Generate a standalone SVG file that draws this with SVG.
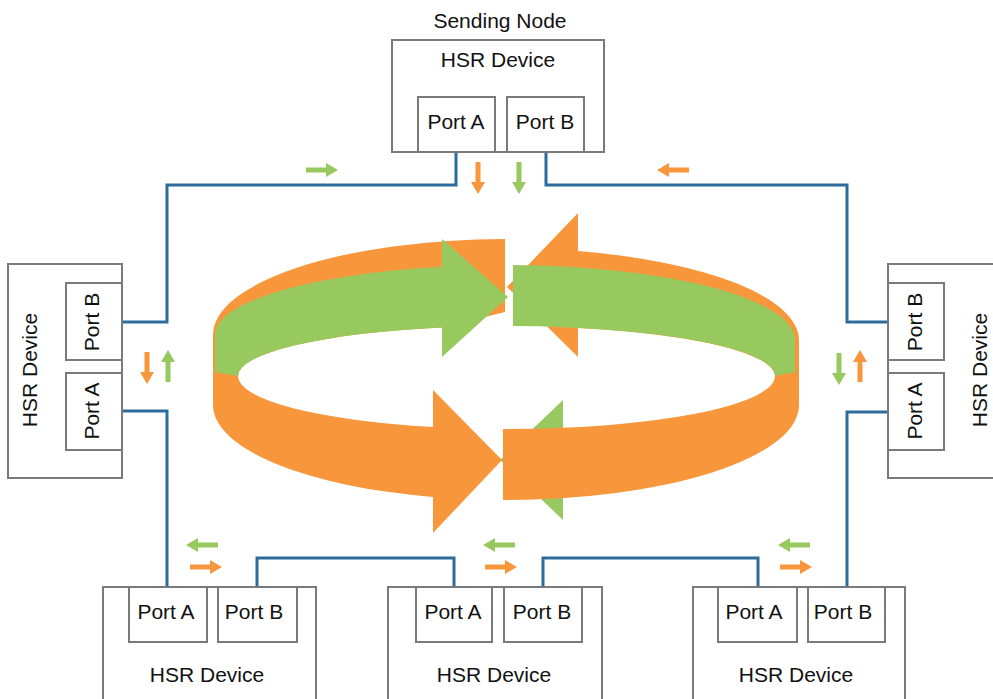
<svg xmlns="http://www.w3.org/2000/svg" width="993" height="699" viewBox="0 0 993 699">
<style>
.box{fill:#fff;stroke:#7a7a7a;stroke-width:2}
.lbl{font-family:"Liberation Sans",Arial,sans-serif;font-size:21px;fill:#111;text-anchor:middle}
.link{fill:none;stroke:#2c6c9c;stroke-width:3}
.or{fill:#f7963b}
.gr{fill:#97c95f}
</style>
<defs>
<!-- short block arrow pointing along +x -->
<path id="sa" d="M0,-2.5H20V-7L32,0L20,7V2.5H0Z"/>
</defs>
<rect width="993" height="699" fill="#fff"/>

<!-- ring of two counter-rotating ribbons -->
<g id="ring">
<path class="gr" d="M563,400L500,460L563,520Z"/>
<path class="or" d="M578,213L507,287L578,357L578,328A268.5,50 0 0 1 775,376A268.5,53 0 0 1 503,429L503,500A293,95 0 0 0 799,405L799,340A293,92 0 0 0 578,251Z"/>
<path class="or" d="M505,239A293,96 0 0 0 213,335L213,405A293,95 0 0 0 433,497L433,533L502,460L433,390L433,427A268.5,53 0 0 1 238,376A268.5,50 0 0 1 442,327.5L505,312Z"/>
<path class="gr" d="M442,239L508,297L442,357L442,327.5A268.5,50 0 0 0 238,376L215,372L215,335A291,70 0 0 1 442,266.7Z"/>
<path class="gr" d="M513,265A289,75 0 0 1 795,340L795,372L775,376A268.5,50 0 0 0 513,326Z"/>
</g>

<!-- ring cabling -->
<g id="connectors">
<path class="link" d="M456,152V185H167V322H122"/>
<path class="link" d="M546,152V185H847V322H888"/>
<path class="link" d="M122,411H167V587"/>
<path class="link" d="M257,587V558H454V587"/>
<path class="link" d="M543,587V558H758V587"/>
<path class="link" d="M847,587V412H888"/>
</g>

<!-- frame direction markers -->
<g id="flow">
<use href="#sa" class="gr" transform="translate(306,170)"/>
<use href="#sa" class="or" transform="translate(689,170) rotate(180)"/>
<use href="#sa" class="or" transform="translate(478,162) rotate(90)"/>
<use href="#sa" class="gr" transform="translate(519,162) rotate(90)"/>
<use href="#sa" class="or" transform="translate(147,352) rotate(90)"/>
<use href="#sa" class="gr" transform="translate(168,382) rotate(-90)"/>
<use href="#sa" class="gr" transform="translate(839,353) rotate(90)"/>
<use href="#sa" class="or" transform="translate(860,382) rotate(-90)"/>
<use href="#sa" class="gr" transform="translate(218,545) rotate(180)"/>
<use href="#sa" class="or" transform="translate(190,567)"/>
<use href="#sa" class="gr" transform="translate(515,545) rotate(180)"/>
<use href="#sa" class="or" transform="translate(485,567)"/>
<use href="#sa" class="gr" transform="translate(810,545) rotate(180)"/>
<use href="#sa" class="or" transform="translate(780,567)"/>
</g>

<g id="node-sending">
<text class="lbl" x="500" y="28">Sending Node</text>
<rect class="box" x="392" y="40" width="212" height="112"/>
<text class="lbl" x="498" y="67">HSR Device</text>
<rect class="box" x="418" y="97" width="77" height="55"/>
<rect class="box" x="507" y="97" width="77" height="55"/>
<text class="lbl" x="456" y="129">Port A</text>
<text class="lbl" x="545" y="129">Port B</text>
</g>

<g id="node-left">
<rect class="box" x="8" y="264" width="114" height="214"/>
<rect class="box" x="66" y="283" width="56" height="77"/>
<rect class="box" x="66" y="373" width="56" height="77"/>
<text class="lbl" transform="translate(37,370) rotate(-90)">HSR Device</text>
<text class="lbl" transform="translate(99,322) rotate(-90)">Port B</text>
<text class="lbl" transform="translate(99,411) rotate(-90)">Port A</text>
</g>

<g id="node-right">
<rect class="box" x="888" y="264" width="130" height="214"/>
<rect class="box" x="888" y="283" width="56" height="77"/>
<rect class="box" x="888" y="373" width="56" height="77"/>
<text class="lbl" transform="translate(987,370) rotate(-90)">HSR Device</text>
<text class="lbl" transform="translate(922,322) rotate(-90)">Port B</text>
<text class="lbl" transform="translate(922,411) rotate(-90)">Port A</text>
</g>

<g id="node-bottom-left">
<rect class="box" x="103" y="587" width="213" height="130"/>
<rect class="box" x="129" y="587" width="78" height="55"/>
<rect class="box" x="218" y="587" width="79" height="55"/>
<text class="lbl" x="166" y="619">Port A</text>
<text class="lbl" x="254" y="619">Port B</text>
<text class="lbl" x="207" y="682">HSR Device</text>
</g>

<g id="node-bottom-middle">
<rect class="box" x="388" y="587" width="214" height="130"/>
<rect class="box" x="416" y="587" width="76" height="55"/>
<rect class="box" x="504" y="587" width="78" height="55"/>
<text class="lbl" x="453" y="619">Port A</text>
<text class="lbl" x="542" y="619">Port B</text>
<text class="lbl" x="494" y="682">HSR Device</text>
</g>

<g id="node-bottom-right">
<rect class="box" x="693" y="587" width="212" height="130"/>
<rect class="box" x="718" y="587" width="79" height="55"/>
<rect class="box" x="808" y="587" width="77" height="55"/>
<text class="lbl" x="754" y="619">Port A</text>
<text class="lbl" x="843" y="619">Port B</text>
<text class="lbl" x="796" y="682">HSR Device</text>
</g>
</svg>
